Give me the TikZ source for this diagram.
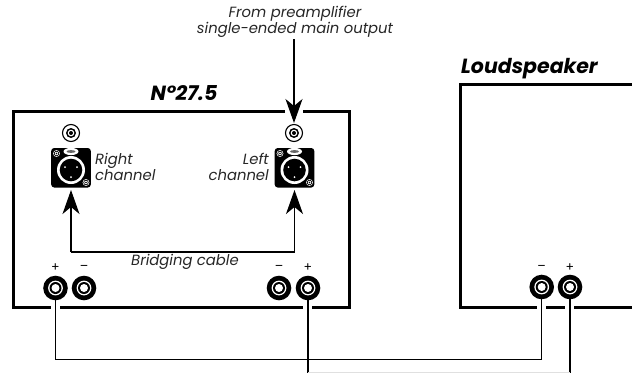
\documentclass[tikz,border=0pt]{standalone}
\usepackage{fontspec}
\setmainfont{Poppins}
\usetikzlibrary{arrows.meta}
\tikzset{
  boxline/.style={line width=3pt, black},
  wire/.style={line width=1.2pt, black},
  sig/.style={line width=1.2pt, black, -{Stealth[length=24pt,width=17pt,inset=7pt]}},
  lab/.style={font=\fontsize{14.8}{16}\selectfont\itshape, inner sep=0pt, text=black!85},
  title/.style={font=\fontsize{20.5}{21}\selectfont\bfseries\itshape, inner sep=0pt},
  sign/.style={font=\fontsize{12.5}{12}\selectfont, inner sep=0pt}
}
\newcommand{\terminal}[2]{%
  \fill[black] (#1,#2) circle (12.3);
  \fill[white] (#1,#2) circle (7.4);
  \fill[black] (#1,#2) circle (6);
  \fill[white] (#1,#2) circle (4);
}
\newcommand{\rca}[2]{%
  \draw[line width=1.1pt,fill=white] (#1,#2) circle (8.5);
  \fill[black] (#1,#2) circle (5);
  \fill[white] (#1,#2) circle (3.3);
  \fill[black] (#1,#2) circle (2);
}
\newcommand{\screw}[2]{%
  \fill[white] (#1,#2) circle (3.4);
  \draw[black,line width=.7pt] (#1,#2) circle (2.3);
  \fill[black] (#1,#2) circle (.8);
}
\newcommand{\xlr}[2]{%
  \fill[black,rounded corners=3pt] (#1-19.8,#2-20) rectangle (#1+19.8,#2+19.5);
  \fill[white] (#1,#2+2) circle (14);
  \fill[black] (#1,#2+2) circle (11.3);
  \fill[white] (#1-6,#2-1) circle (1);
  \fill[white] (#1+6,#2-1) circle (1);
  \fill[white] (#1,#2+9) circle (1);
  \fill[white] (#1,#2-16.5) ellipse (7.5 and 3.6);
  \fill[black!60] (#1,#2-16.5) ellipse (4.5 and 1.4);
  \screw{#1-14.5}{#2-14.5}
  \screw{#1+15}{#2+14.5}
}
\begin{document}
\begin{tikzpicture}[x=1pt,y=-1pt]
\useasboundingbox (0,0) rectangle (632,373);
% amplifier outline, with gaps
\draw[boxline,line cap=butt,miter limit=10] (285,111) -- (13,111) -- (13,307) -- (51,307);
\draw[boxline] (60,307) -- (303,307);
\draw[boxline] (312,307) -- (349,307) -- (349,111) -- (303,111);
% loudspeaker outline
\draw[boxline] (632,84) -- (460,84) -- (460,307) -- (537,307);
\draw[boxline] (546,307) -- (565,307);
\draw[boxline] (574,307) -- (632,307);
% connectors
\xlr{71}{168}
\xlr{294.5}{168}
\rca{71}{133}
\rca{294}{133}
\coordinate (inA) at (294,39);
\coordinate (inB) at (294,123);
\coordinate (brL) at (71,190);
\coordinate (brR) at (294.5,190);
\draw[sig] (inA) -- (inB);
\draw[sig] (71,252) -- (brL);
\draw[sig] (294.5,252) -- (brR);
\draw[wire] (71,252) -- (294.5,252);
% wires
\draw[wire] (55.5,288) -- (55.5,359.5) -- (541.7,359.5) -- (541.7,287);
\draw[wire] (308,288) -- (308,373);
\draw[wire] (570,287) -- (570,373);
\draw[black!12,line width=.8pt] (308,372.6) -- (570,372.6);
% terminals
\terminal{55.5}{288}
\terminal{84}{288}
\terminal{279}{288}
\terminal{308}{288}
\terminal{541.7}{287}
\terminal{570}{287}
% signs
\node[sign] (p1) at (55.5,268) {+};
\node[sign] (m1) at (84,268) {–};
\node[sign] (m2) at (279,268) {–};
\node[sign] (p2) at (308,268) {+};
\node[sign] (m3) at (541.7,268) {–};
\node[sign] (p3) at (570,268) {+};
% text
\node[lab,align=center] (src) at (295,22) {From preamplifier\\single-ended main output};
\node[lab,anchor=west,align=left] (rc) at (95,167) {Right\\channel};
\node[lab,anchor=east,align=right] (lc) at (269,167) {Left\\channel};
\node[lab] (bc) at (185,262) {Bridging cable};
\node[title] (amp) at (184,93) {N°27.5};
\node[title,anchor=west] (ls) at (461,69) {Loudspeaker};
\end{tikzpicture}
\end{document}
